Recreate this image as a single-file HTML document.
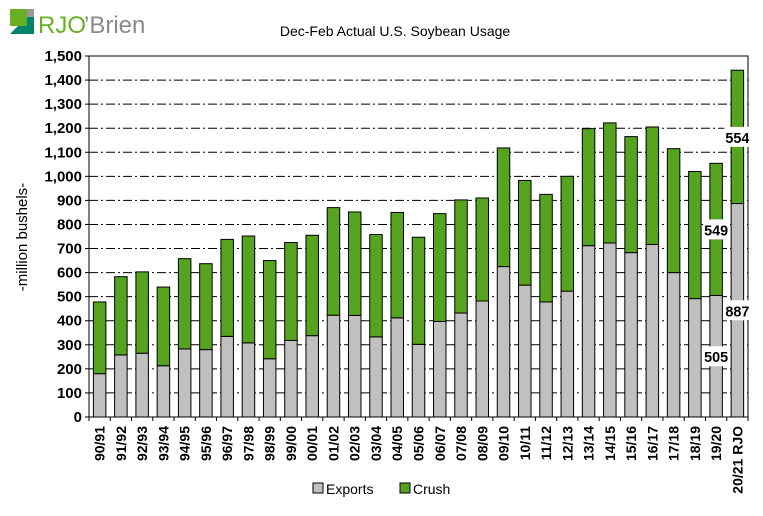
<!DOCTYPE html>
<html><head><meta charset="utf-8"><style>
body{margin:0;background:#fff;}
svg{display:block;font-family:"Liberation Sans",Arial,sans-serif;}
</style></head><body>
<svg id="c" width="763" height="516" viewBox="0 0 763 516">
  <g>
    <rect x="10" y="9" width="18" height="17" fill="#6ab023"/>
    <rect x="27" y="9" width="7" height="8" fill="#9a9a9a"/>
    <polygon points="10,34 34,34 34,17 27,17 27,26 18,26" fill="#00846e"/>
    <text x="38" y="33" font-size="24" fill="#6ab023">RJO</text>
    <text x="84" y="33" font-size="24" fill="#8a8a8a">’Brien</text>
  </g>
  <text x="395" y="36" font-size="14" text-anchor="middle">Dec-Feb Actual U.S. Soybean Usage</text>
  <text transform="translate(27,237) rotate(-90)" font-size="15" text-anchor="middle">-million bushels-</text>
  <g id="grid"></g><g id="bars"></g><g id="axes"></g><g id="labels"></g>
  <g>
    <rect x="313" y="483" width="10" height="10" fill="#c0c0c0" stroke="#000"/>
    <text x="326" y="494" font-size="14">Exports</text>
    <rect x="400" y="483" width="10" height="10" fill="#56a31f" stroke="#000"/>
    <text x="413" y="494" font-size="14">Crush</text>
  </g>
</svg>
<script>
const categories=["90/91","91/92","92/93","93/94","94/95","95/96","96/97","97/98","98/99","99/00","00/01","01/02","02/03","03/04","04/05","05/06","06/07","07/08","08/09","09/10","10/11","11/12","12/13","13/14","14/15","15/16","16/17","17/18","18/19","19/20","20/21 RJO"];
const exportsVals=[180,258,265,213,283,280,335,308,242,318,338,423,422,333,412,302,397,432,482,625,548,478,523,712,723,683,717,600,492,505,887];
const crushVals=[298,325,338,327,375,357,403,444,408,407,417,447,430,425,438,445,448,470,428,493,435,447,477,486,499,482,488,515,528,549,554];
const yTicks=[0,100,200,300,400,500,600,700,800,900,1000,1100,1200,1300,1400,1500];
const labeled=[29,30];
const NS="http://www.w3.org/2000/svg";
const L=89,R=748,T=56,B=417,yMax=1500;
const y=v=>B-(v/yMax)*(B-T);
const slot=(R-L)/categories.length;
const xc=i=>L+slot*(i+0.5);
const bw=12.5;
function mk(t,a,p){const e=document.createElementNS(NS,t);for(const k in a)e.setAttribute(k,a[k]);p.appendChild(e);return e;}
const grid=document.getElementById('grid'),bars=document.getElementById('bars'),axes=document.getElementById('axes'),labels=document.getElementById('labels');
yTicks.forEach(v=>{
  if(v>0){const g=mk('line',{x1:L,x2:R,y1:y(v),y2:y(v),stroke:'#000','stroke-width':1,'stroke-dasharray':'9,3,2,3'},grid);
  
  }
  const tk=mk('line',{x1:L-4,x2:L,y1:y(v),y2:y(v),stroke:'#000'},axes);
  
  
  const t=mk('text',{x:L-7,y:y(v)+5,'font-size':15,'font-weight':'bold','text-anchor':'end'},axes);
  
  
  t.textContent=v.toLocaleString('en-US');
});
categories.forEach((c,i)=>{
  const e=exportsVals[i],cr=crushVals[i];
  const b1=mk('rect',{x:xc(i)-bw/2,y:y(e),width:bw,height:B-y(e),fill:'#c0c0c0',stroke:'#000','stroke-width':1},bars);
  
  
  const b2=mk('rect',{x:xc(i)-bw/2,y:y(e+cr),width:bw,height:y(e)-y(e+cr),fill:'#56a31f',stroke:'#000','stroke-width':1},bars);
  
  
  const tk=mk('line',{x1:L+slot*i,x2:L+slot*i,y1:B,y2:B+4,stroke:'#000'},axes);
  
  
  const t=mk('text',{transform:`translate(${xc(i)+5},426) rotate(-90)`,'font-size':14,'font-weight':'bold','text-anchor':'end'},axes);
  
  
  t.textContent=c;
});
mk('line',{x1:R,x2:R,y1:B,y2:B+4,stroke:'#000'},axes);
const fr=mk('rect',{x:L,y:T,width:R-L,height:B-T,fill:'none',stroke:'#000','stroke-width':1},axes);


labeled.forEach(i=>{
  [[exportsVals[i]/2,exportsVals[i]],[exportsVals[i]+crushVals[i]/2,crushVals[i]]].forEach(([pos,val])=>{
    const cy=y(pos);
    const r=mk('rect',{x:xc(i)-13,y:cy-10,width:26,height:20,fill:'#fff'},labels);
    
    
    const t=mk('text',{x:xc(i),y:cy+6,'font-size':15,'font-weight':'bold','text-anchor':'middle','textLength':24,'lengthAdjust':'spacingAndGlyphs'},labels);
    
    
    t.textContent=val;
  });
});
</script>
</body></html>
